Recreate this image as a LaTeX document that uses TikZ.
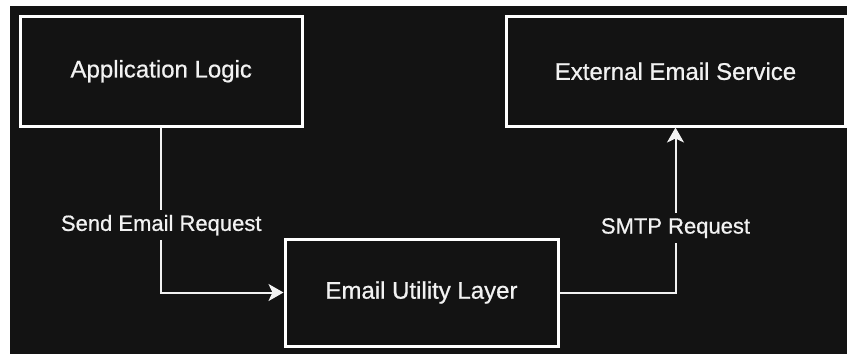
\documentclass[tikz,border=0pt]{standalone}
\usepackage{fontspec}
\setmainfont{Liberation Sans}[BoldFont=Liberation Sans, BoldFeatures={FakeBold=0.7}]
\usetikzlibrary{arrows.meta}
\definecolor{canvas}{HTML}{131313}
\definecolor{ink}{HTML}{F2F2F2}
\tikzset{
  block/.style={draw=white, line width=3pt, fill=canvas, text=ink,
    font=\fontsize{24}{28}\selectfont\bfseries, inner sep=0pt},
  flow/.style={draw=ink, line width=2pt,
    -{Stealth[length=15pt, width=17pt, inset=4pt]}},
  tag/.style={fill=canvas, text=ink, font=\fontsize{22}{26}\selectfont\bfseries,
    inner xsep=1pt, inner ysep=5pt}
}
\begin{document}
\begin{tikzpicture}[x=1pt, y=-1pt]
  % page and dark canvas
  \fill[white] (0,0) rectangle (847,354);
  \useasboundingbox (0,0) rectangle (847,354);
  \fill[canvas] (10,6) rectangle (847,354);

  % components
  \node[block, minimum width=281.5pt, minimum height=109.5pt]
    (app) at (161.25,71.25) {Application Logic};
  \node[block, minimum width=339pt, minimum height=109.5pt]
    (ext) at (675.5,71.25) {External Email Service};
  \node[block, minimum width=273pt, minimum height=107pt]
    (eul) at (421.5,292.5) {Email Utility Layer};

  % message flow
  \draw[flow] (app.south) |- node[tag, pos=0.296] {Send Email Request} (eul.west);
  \draw[flow] (eul.east) -| node[tag, pos=0.695] {SMTP Request} (ext.south);
\end{tikzpicture}
\end{document}
